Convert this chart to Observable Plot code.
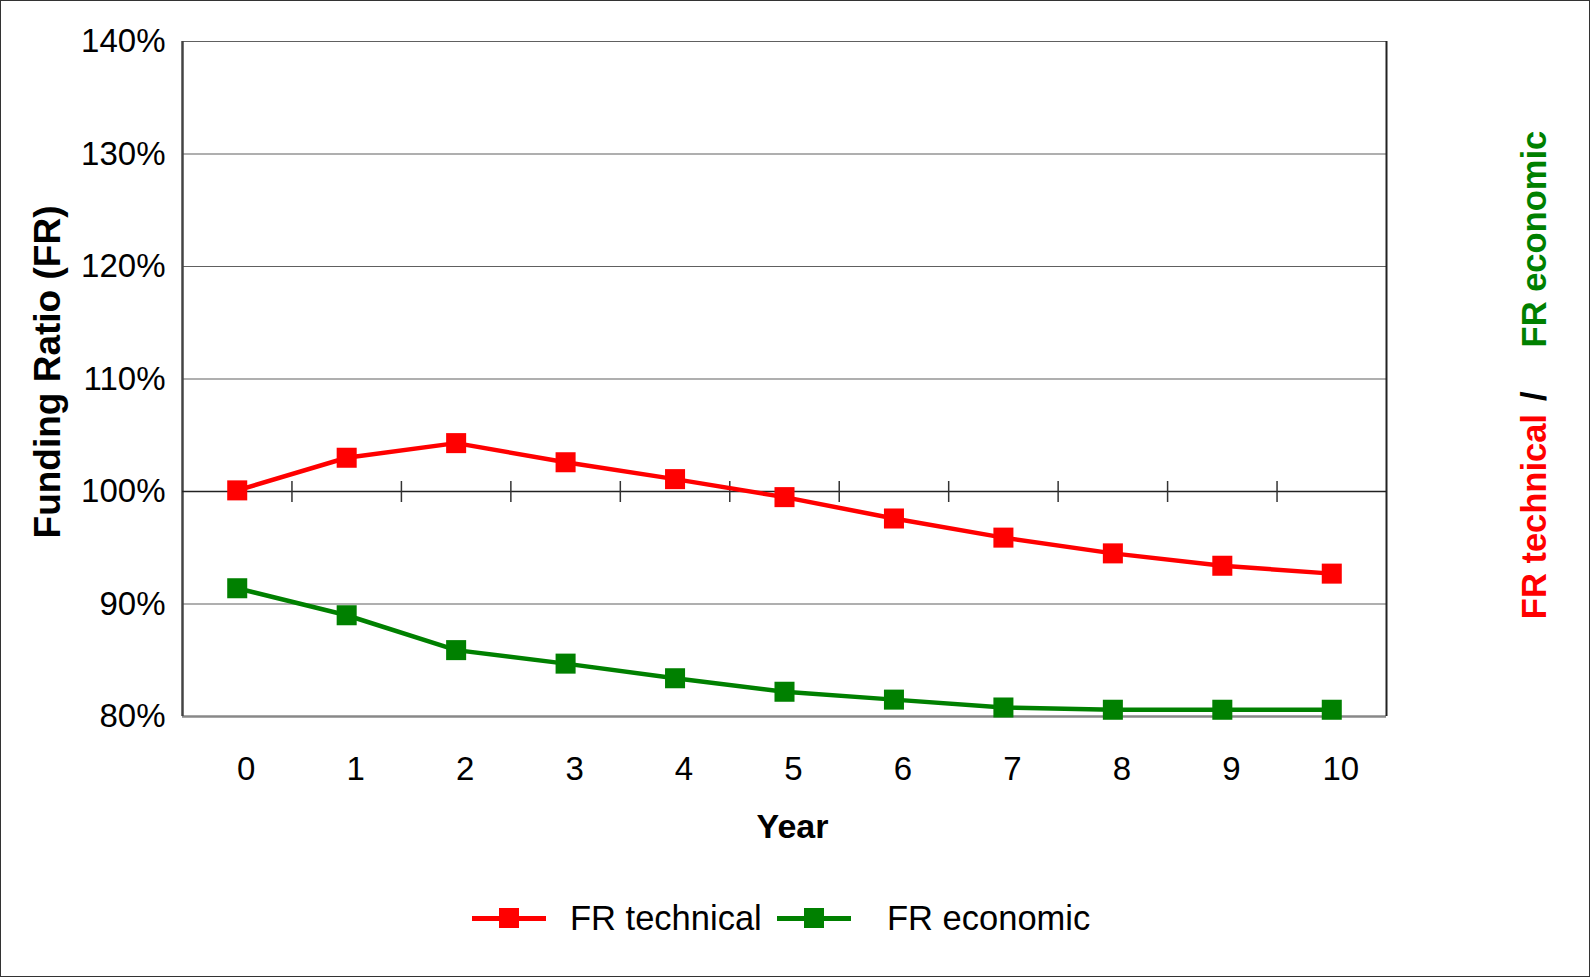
<!DOCTYPE html>
<html>
<head>
<meta charset="utf-8">
<script src="https://cdn.jsdelivr.net/npm/d3@7"></script>
<script src="https://cdn.jsdelivr.net/npm/@observablehq/plot@0.6"></script>
<style>
  html, body { margin: 0; padding: 0; background: #fff; }
  #page {
    position: relative; width: 1590px; height: 977px; overflow: hidden;
    font-family: "Liberation Sans", Arial, Helvetica, sans-serif; color: #000;
  }
  #border {
    position: absolute; left: 0; top: 0; width: 1590px; height: 977px;
    box-sizing: border-box; border: 1px solid #333; pointer-events: none;
  }
  #plot { position: absolute; left: 0; top: 0; }
  .legend-line { position: absolute; height: 5px; }
  .legend-box { position: absolute; width: 20px; height: 20px; }
  .legend-text { position: absolute; font-size: 34.5px; line-height: 34px; white-space: nowrap; }
  #side { position: absolute; width: 0; height: 0; transform: rotate(-90deg); }
  #side .inner {
    position: absolute; transform: translate(-50%, -50%);
    white-space: nowrap; font-size: 34.5px; line-height: 34px; font-weight: bold;
  }
</style>
</head>
<body>
<div id="page">
  <div id="plot"></div>
  <div id="legend"></div>
  <div id="side"><div class="inner"></div></div>
  <div id="border"></div>
</div>
<script>
// Projection years and funding ratios (1.00 = 100%)
const years = [0, 1, 2, 3, 4, 5, 6, 7, 8, 9, 10];
const frTechnical = [1.001, 1.030, 1.043, 1.026, 1.011, 0.995, 0.976, 0.959, 0.945, 0.934, 0.927];
const frEconomic = [0.914, 0.890, 0.859, 0.847, 0.834, 0.822, 0.815, 0.808, 0.806, 0.806, 0.806];

const yTicks = [0.8, 0.9, 1.0, 1.1, 1.2, 1.3, 1.4];
const gridLines = [0.9, 1.1, 1.2, 1.3, 1.4];
const seriesNames = ["FR technical", "FR economic"];
const seriesColors = ["#ff0000", "#008000"];

const rows = [];
years.forEach((yr, i) => {
  rows.push({year: yr, value: frTechnical[i], series: seriesNames[0]});
  rows.push({year: yr, value: frEconomic[i], series: seriesNames[1]});
});

// category boundaries, where the cross ticks sit on the 100% axis line
const boundaries = years.slice(0, -1).map(y => y + 0.5);

// a short vertical stroke as a dot symbol
const vTick = {
  draw(ctx, size) {
    const r = Math.sqrt(size / Math.PI);
    ctx.moveTo(0, -r);
    ctx.lineTo(0, r);
  }
};

const colorFor = s => seriesColors[seriesNames.indexOf(s)];

const chart = Plot.plot({
  width: 1590,
  height: 860,
  marginLeft: 182,
  marginRight: 204,
  marginTop: 41,
  marginBottom: 144,
  style: {
    fontFamily: '"Liberation Sans", Arial, Helvetica, sans-serif',
    fontSize: "33px",
    background: "transparent",
    overflow: "visible",
    color: "#000"
  },
  x: {domain: [-0.5, 10.5]},
  y: {domain: [0.8, 1.4]},
  marks: [
    Plot.ruleY(gridLines, {stroke: "#606060", strokeWidth: 1.2}),
    Plot.ruleY([0.8], {stroke: "#888", strokeWidth: 2.5}),
    Plot.ruleX([-0.5], {stroke: "#444", strokeWidth: 2.5}),
    Plot.ruleX([10.5], {stroke: "#222", strokeWidth: 2}),
    Plot.ruleY([1.0], {stroke: "#222", strokeWidth: 1.5}),
    Plot.dot(boundaries, {x: d => d, y: () => 1.0, r: 10.5, symbol: vTick, fill: "none", stroke: "#333", strokeWidth: 1.5}),
    Plot.axisY({
      ticks: yTicks,
      tickFormat: d => Math.round(d * 100) + "%",
      tickSize: 0,
      tickPadding: 17,
      fontSize: 33,
      label: null
    }),
    Plot.axisX({
      ticks: years,
      tickFormat: d => String(d),
      tickSize: 0,
      tickPadding: 40,
      dx: 9,
      fontSize: 33,
      label: null
    }),
    Plot.line(rows, {x: "year", y: "value", z: "series", stroke: d => colorFor(d.series), strokeWidth: 4.5}),
    Plot.dot(rows, {x: "year", y: "value", symbol: "square", r: 11.3, fill: d => colorFor(d.series), stroke: "none"}),
    Plot.text(["Funding Ratio (FR)"], {
      frameAnchor: "left", dx: -134, dy: -7, rotate: -90,
      textAnchor: "middle", lineAnchor: "middle",
      fontSize: 37, fontWeight: "bold", fill: "#000"
    }),
    Plot.text(["Year"], {
      frameAnchor: "bottom", dx: 8, dy: 111,
      textAnchor: "middle", lineAnchor: "middle",
      fontSize: 34, fontWeight: "bold", fill: "#000"
    })
  ]
});
document.getElementById("plot").appendChild(chart);

// Legend below the plot
const legend = document.getElementById("legend");
const legendY = 918;
const legendItems = [
  {name: seriesNames[0], color: seriesColors[0], lineX: 472, textX: 570},
  {name: seriesNames[1], color: seriesColors[1], lineX: 777, textX: 887}
];
legendItems.forEach(item => {
  const line = document.createElement("div");
  line.className = "legend-line";
  line.style.left = item.lineX + "px";
  line.style.width = "74px";
  line.style.top = (legendY - 2.5) + "px";
  line.style.background = item.color;
  legend.appendChild(line);
  const box = document.createElement("div");
  box.className = "legend-box";
  box.style.left = (item.lineX + 37 - 10) + "px";
  box.style.top = (legendY - 10) + "px";
  box.style.background = item.color;
  legend.appendChild(box);
  const txt = document.createElement("div");
  txt.className = "legend-text";
  txt.style.left = item.textX + "px";
  txt.style.top = (legendY - 17) + "px";
  txt.textContent = item.name;
  legend.appendChild(txt);
});

// Rotated series note on the right
const side = document.getElementById("side");
side.style.left = "1534px";
side.style.top = "375px";
const inner = side.querySelector(".inner");
const parts = [
  {text: seriesNames[0], color: seriesColors[0], pad: 0},
  {text: "/", color: "#000", pad: 13},
  {text: seriesNames[1], color: seriesColors[1], pad: 44}
];
parts.forEach(p => {
  const s = document.createElement("span");
  s.textContent = p.text;
  s.style.color = p.color;
  s.style.marginLeft = p.pad + "px";
  inner.appendChild(s);
});
</script>
</body>
</html>
